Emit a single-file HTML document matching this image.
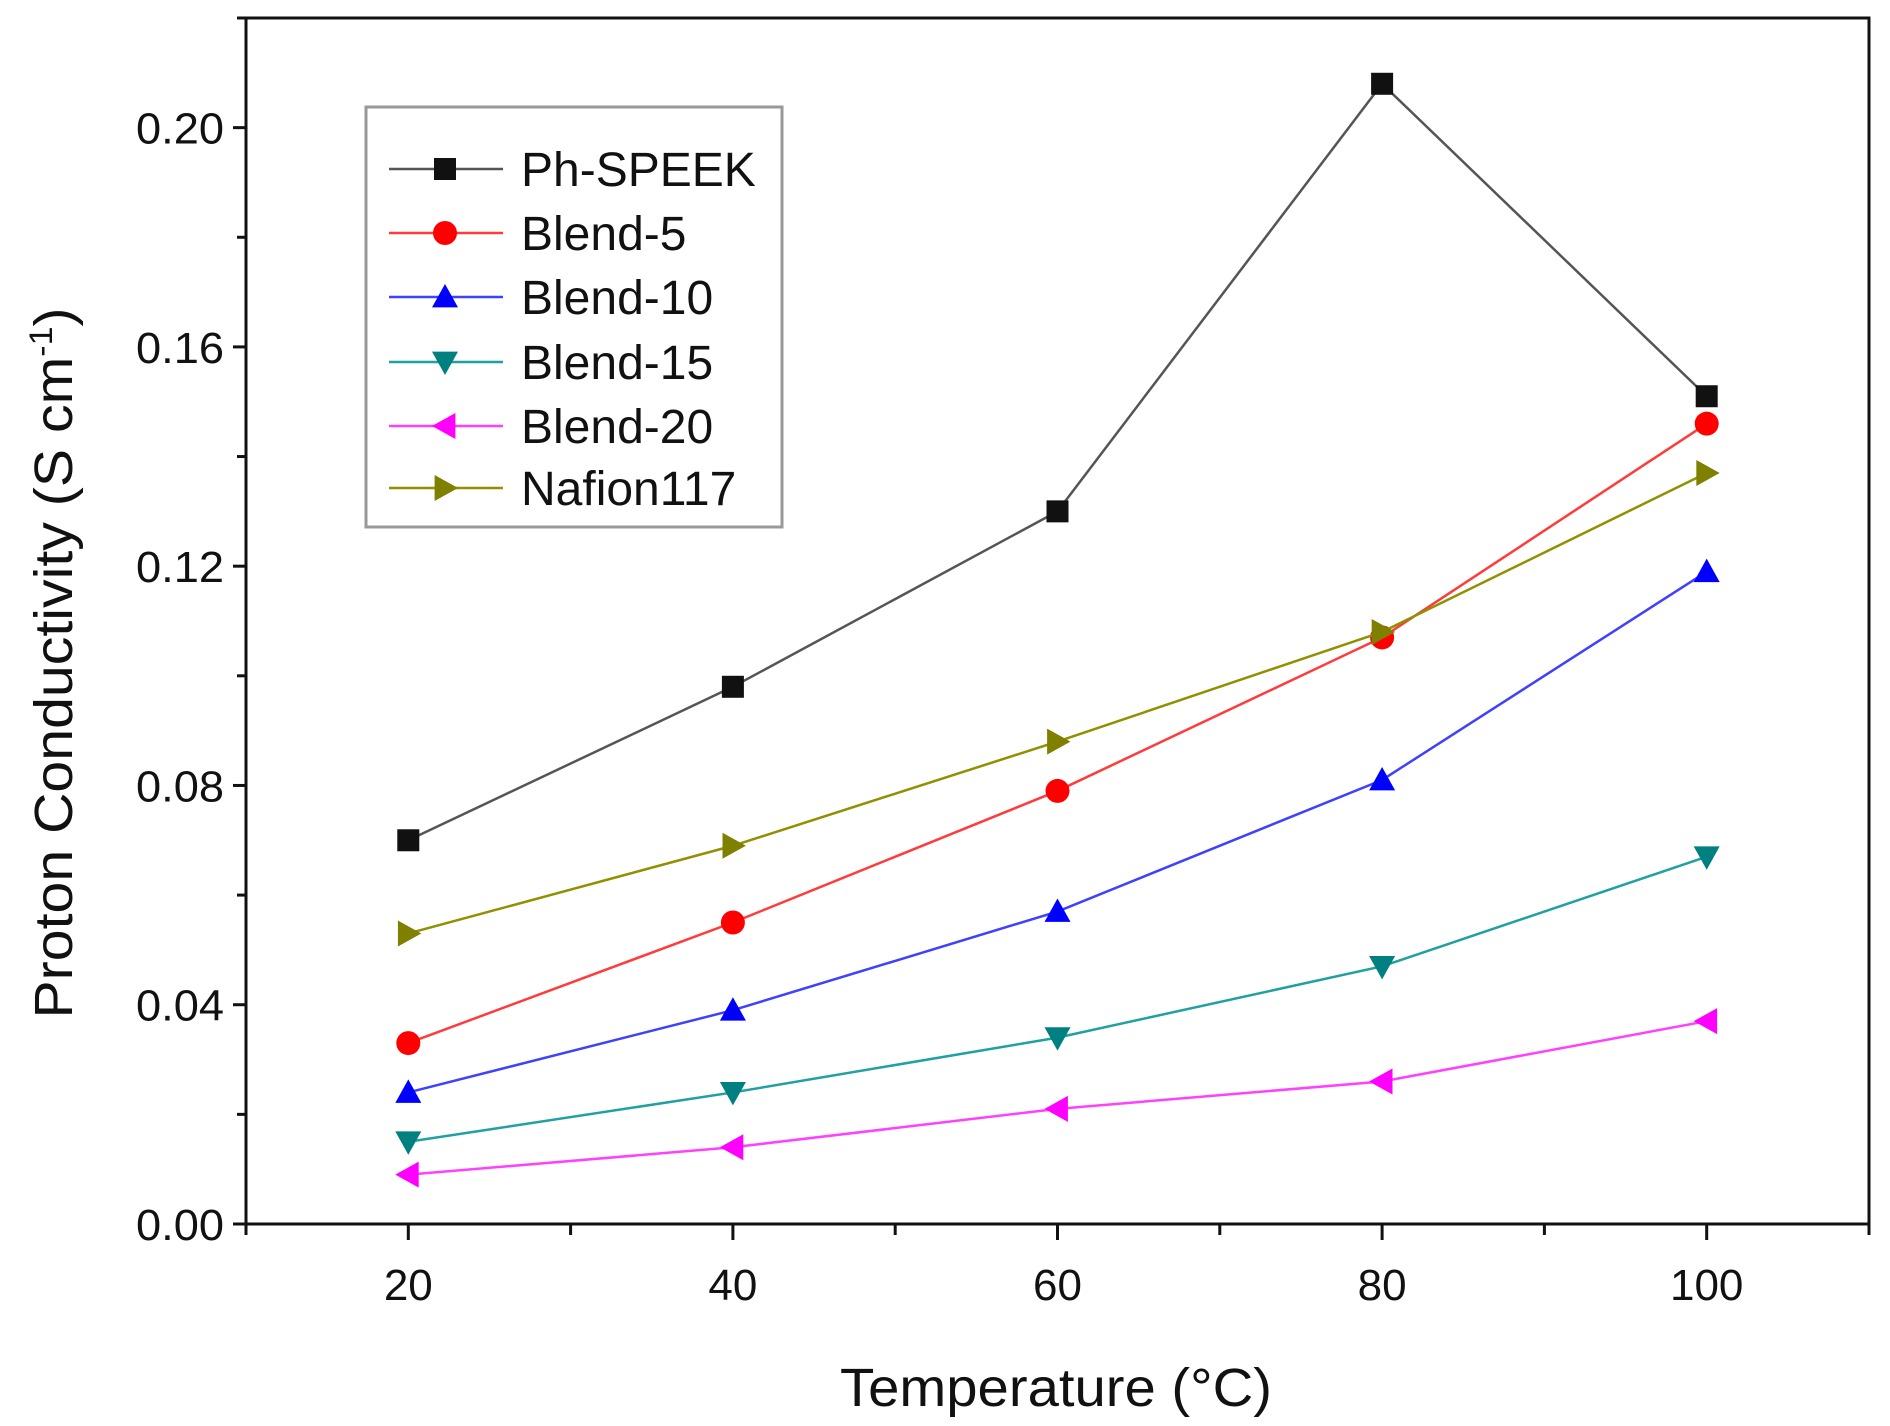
<!DOCTYPE html>
<html><head><meta charset="utf-8"><style>
html,body{margin:0;padding:0;background:#fff;}
svg{display:block;}
text{font-family:"Liberation Sans",Arial,sans-serif;fill:#111;}
</style></head><body>
<svg id="chart" width="1890" height="1426" viewBox="0 0 1890 1426" xmlns="http://www.w3.org/2000/svg">
<g id="axes"></g>
<g id="series"></g>
<g id="legend"></g>
</svg>
<script>
const categories = [20, 40, 60, 80, 100];
const phSpeek = [0.070, 0.098, 0.130, 0.208, 0.151];
const blend5 = [0.033, 0.055, 0.079, 0.107, 0.146];
const blend10 = [0.024, 0.039, 0.057, 0.081, 0.119];
const blend15 = [0.015, 0.024, 0.034, 0.047, 0.067];
const blend20 = [0.009, 0.014, 0.021, 0.026, 0.037];
const nafion = [0.053, 0.069, 0.088, 0.108, 0.137];
const seriesNames = ["Ph-SPEEK", "Blend-5", "Blend-10", "Blend-15", "Blend-20", "Nafion117"];
const yTickLabels = ["0.00", "0.04", "0.08", "0.12", "0.16", "0.20"];
const xTickLabels = ["20", "40", "60", "80", "100"];

const NS = "http://www.w3.org/2000/svg";
const L = 246, R = 1869, T = 18, B = 1224;
const xMin = 10, xMax = 110, yMin = 0, yMax = 0.22;
function xs(v){ return L + (v - xMin) / (xMax - xMin) * (R - L); }
function ys(v){ return B - (v - yMin) / (yMax - yMin) * (B - T); }
function mk(tag, attrs, parent){ const e = document.createElementNS(NS, tag); for (const k in attrs) e.setAttribute(k, attrs[k]); parent.appendChild(e); return e; }

const axes = document.getElementById('axes');
const frame = mk('rect', {x:L, y:T, width:R-L, height:B-T, fill:'none', stroke:'#111', 'stroke-width':3}, axes);



for (let i = 0; i <= 11; i++) {
  const v = i * 0.02, y = ys(v), major = i % 2 === 0;
  const t = mk('line', {x1:L - (major ? 13 : 9), x2:L, y1:y, y2:y, stroke:'#111', 'stroke-width':3}, axes);
  
  
}
yTickLabels.forEach(s => {
  const tx = mk('text', {x:L - 22, y:ys(parseFloat(s)) + 16, 'text-anchor':'end', 'font-size':44, textLength:88, lengthAdjust:'spacingAndGlyphs'}, axes);
  tx.textContent = s;
  
  
});
for (let v = 10; v <= 110; v += 10) {
  const major = (v % 20 === 0);
  const t = mk('line', {x1:xs(v), x2:xs(v), y1:B, y2:B + (major ? 16 : 11), stroke:'#111', 'stroke-width':3}, axes);
  
  
}
xTickLabels.forEach(s => {
  const tx = mk('text', {x:xs(parseFloat(s)), y:1300, 'text-anchor':'middle', 'font-size':44}, axes);
  tx.textContent = s;
  
  
});
const xt = mk('text', {x:1056, y:1406, 'text-anchor':'middle', 'font-size':54, textLength:432, lengthAdjust:'spacingAndGlyphs'}, axes);
xt.textContent = "Temperature (°C)";


const yt = mk('text', {x:0, y:0, 'text-anchor':'middle', 'font-size':54, transform:'translate(72,663) rotate(-90)', textLength:711, lengthAdjust:'spacingAndGlyphs'}, axes);
yt.innerHTML = 'Proton Conductivity (S cm<tspan dy="-20" font-size="32">-1</tspan><tspan dy="20">)</tspan>';



const allSeries = [phSpeek, blend5, blend10, blend15, blend20, nafion];
const colors = ["#111111", "#ff0000", "#0000ff", "#008080", "#ff00ff", "#808000"];
const lineColors = ["#555555", "#ff3b3b", "#4040ff", "#20a0a0", "#ff40ff", "#909000"];
const shapes = ["square", "circle", "up", "down", "left", "right"];

function marker(g, shape, cx, cy, color, s){
  let e;
  if (shape === 'square') e = mk('rect', {x:cx - s/2, y:cy - s/2, width:s, height:s, fill:color}, g);
  else if (shape === 'circle') e = mk('circle', {cx:cx, cy:cy, r:s/2 + 1, fill:color}, g);
  else {
    const h = s/2 + 2;
    let p;
    if (shape === 'up') p = [[cx, cy - h], [cx - h, cy + h*0.8], [cx + h, cy + h*0.8]];
    if (shape === 'down') p = [[cx, cy + h], [cx - h, cy - h*0.8], [cx + h, cy - h*0.8]];
    if (shape === 'left') p = [[cx - h, cy], [cx + h*0.8, cy - h], [cx + h*0.8, cy + h]];
    if (shape === 'right') p = [[cx + h, cy], [cx - h*0.8, cy - h], [cx - h*0.8, cy + h]];
    e = mk('polygon', {points:p.map(q => q.join(',')).join(' '), fill:color}, g);
  }
  return e;
}

const sg = document.getElementById('series');
allSeries.forEach((vals, si) => {
  const g = mk('g', {}, sg);
  
  
  const pts = vals.map((v, i) => xs(categories[i]) + ',' + ys(v)).join(' ');
  const pl = mk('polyline', {points:pts, fill:'none', stroke:lineColors[si], 'stroke-width':2.5}, g);
  
  
  vals.forEach((v, i) => {
    const m = marker(g, shapes[si], xs(categories[i]), ys(v), colors[si], 22);
    
    
  });
});

const lg = document.getElementById('legend');
const box = mk('rect', {x:366, y:107, width:416, height:420, fill:'#fff', stroke:'#999', 'stroke-width':3}, lg);


const legendY = [169, 233, 297, 362, 426, 488];
seriesNames.forEach((n, i) => {
  const g = mk('g', {}, lg);
  
  
  const y = legendY[i];
  mk('line', {x1:389, x2:503, y1:y, y2:y, stroke:lineColors[i], 'stroke-width':2.5}, g);
  marker(g, shapes[i], 445, y, colors[i], 22);
  const t = mk('text', {x:521, y:y + 17, 'font-size':48}, g);
  t.textContent = n;
});
</script>
</body></html>
